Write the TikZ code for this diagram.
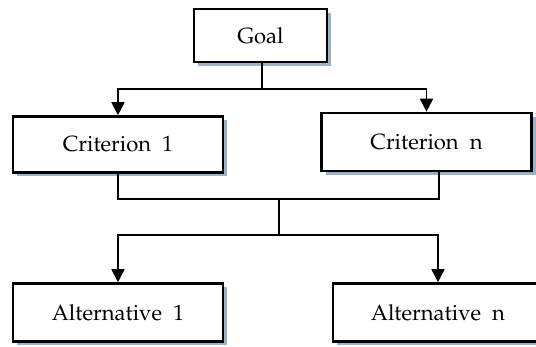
\documentclass[tikz,border=0pt]{standalone}
\usepackage[T1]{fontenc}
\usepackage{mathpazo}
\usetikzlibrary{arrows.meta,shadows}
\definecolor{shadowblue}{HTML}{9CB0CA}
\begin{document}
\begin{tikzpicture}[x=0.5pt, y=-0.5pt, font=\fontsize{11}{13}\selectfont,
  box/.style={draw, line width=1.3pt, fill=white, minimum width=105pt, minimum height=28pt,
    drop shadow={shadow xshift=2pt, shadow yshift=-2pt, fill=shadowblue, opacity=1}},
  arr/.style={line width=0.9pt, -{Triangle[width=6.5pt,length=6.5pt]}}]
\useasboundingbox (0,0) rectangle (536,347);
\node[box, minimum width=66.5pt, minimum height=26.5pt] (goal) at (260.5,35.5) {Goal};
\node[box] (crit1) at (118,144.5) {Criterion\ \ 1};
\node[box, minimum height=29pt] (critn) at (426.5,142) {Criterion\ \ n};
\node[box, minimum height=29pt] (alt1) at (118,312.5) {Alternative\ \ 1};
\node[box, minimum height=29pt] (altn) at (438,312.5) {Alternative\ \ n};
\coordinate (fork) at (262,89);
\coordinate (merge) at (279,199);
\coordinate (split) at (279,235);
\draw[line width=0.9pt] (goal.south -| fork) -- (fork);
\draw[arr] (fork) -| (crit1.north);
\draw[arr] (fork) -| (critn.north);
\draw[line width=0.9pt] (crit1.south) |- (merge) -| ([xshift=6.25pt]critn.south);
\draw[line width=0.9pt] (merge) -- (split);
\draw[arr] (split) -| (alt1.north);
\draw[arr] (split) -| (altn.north);
\end{tikzpicture}
\end{document}
